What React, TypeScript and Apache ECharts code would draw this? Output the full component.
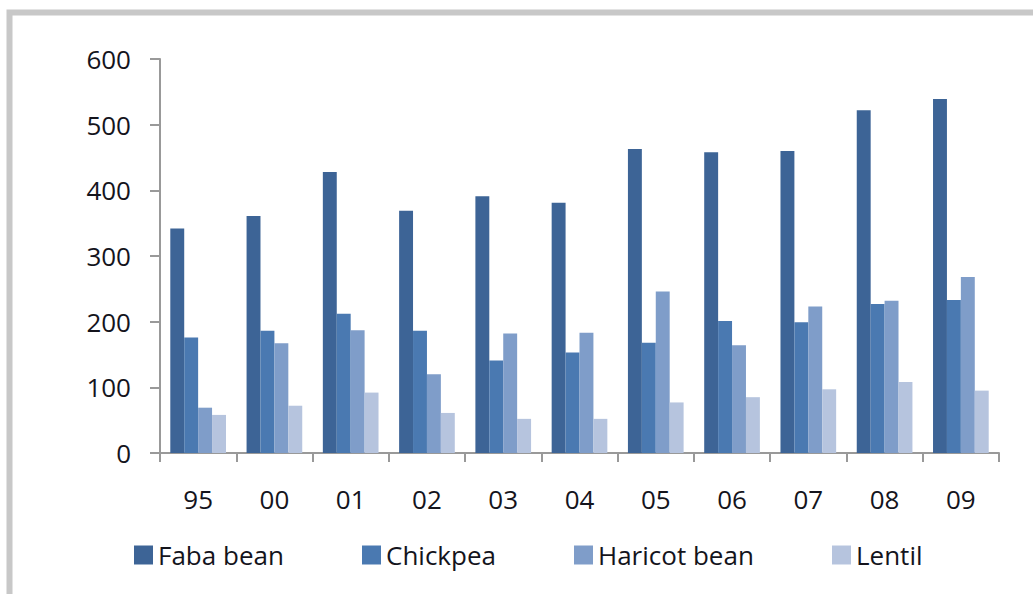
import React, { useEffect, useRef } from "react";
import * as echarts from "echarts";

// Production by crop and year (thousand tonnes)
const years = ["95", "00", "01", "02", "03", "04", "05", "06", "07", "08", "09"];
const fabaBean = [342, 361, 428, 369, 391, 381, 463, 458, 460, 522, 539];
const chickpea = [176, 186, 212, 186, 141, 153, 168, 201, 199, 227, 233];
const haricotBean = [69, 167, 187, 120, 182, 183, 246, 164, 223, 232, 268];
const lentil = [58, 72, 92, 61, 52, 52, 77, 85, 97, 108, 95];

const seriesNames = ["Faba bean", "Chickpea", "Haricot bean", "Lentil"];
const seriesData = [fabaBean, chickpea, haricotBean, lentil];
const colors = ["#3D6496", "#4A79B1", "#7F9DC9", "#B6C4DE"];
const legendLefts = [134, 362, 574, 832];

const FONT = "'Open Sans', sans-serif";
const TEXT = "#14141c";

export default function App() {
  const ref = useRef<HTMLDivElement>(null);

  useEffect(() => {
    if (!ref.current) return;
    const chart = echarts.init(ref.current, undefined, { renderer: "svg" });
    chart.setOption({
      animation: false,
      backgroundColor: "#ffffff",
      color: colors,
      graphic: [
        {
          type: "rect",
          shape: { x: 9.5, y: 12.5, width: 1200, height: 800 },
          style: { fill: "none", stroke: "#c8c8c8", lineWidth: 6 },
          silent: true,
        },
      ],
      legend: seriesNames.map((name, i) => ({
        data: [name],
        left: legendLefts[i],
        top: 542,
        padding: 0,
        itemWidth: 19,
        itemHeight: 19,
        itemGap: 8,
        icon: "rect",
        textStyle: { fontFamily: FONT, fontSize: 26, color: TEXT, padding: [0, 0, 2, 0] },
      })),
      grid: { left: 160, right: 34, top: 59, bottom: 141, containLabel: false },
      xAxis: {
        type: "category",
        data: years,
        axisLine: { lineStyle: { color: "#999999", width: 2 } },
        axisTick: { show: true, length: 9, lineStyle: { color: "#999999", width: 2 } },
        axisLabel: { fontFamily: FONT, fontSize: 26, color: TEXT, margin: 33 },
      },
      yAxis: {
        type: "value",
        min: 0,
        max: 600,
        interval: 100,
        splitLine: { show: false },
        axisLine: { show: true, lineStyle: { color: "#999999", width: 2 } },
        axisTick: { show: true, length: 10, lineStyle: { color: "#999999", width: 2 } },
        axisLabel: { fontFamily: FONT, fontSize: 26, color: TEXT, margin: 29 },
      },
      series: seriesNames.map((name, i) => ({
        name,
        type: "bar",
        data: seriesData[i],
        barGap: "0%",
        barCategoryGap: "27%",
        itemStyle: { color: colors[i] },
      })),
    });
    return () => chart.dispose();
  }, []);

  return (
    <div
      ref={ref}
      style={{ position: "absolute", left: 0, top: 0, width: 1033, height: 594 }}
    />
  );
}
